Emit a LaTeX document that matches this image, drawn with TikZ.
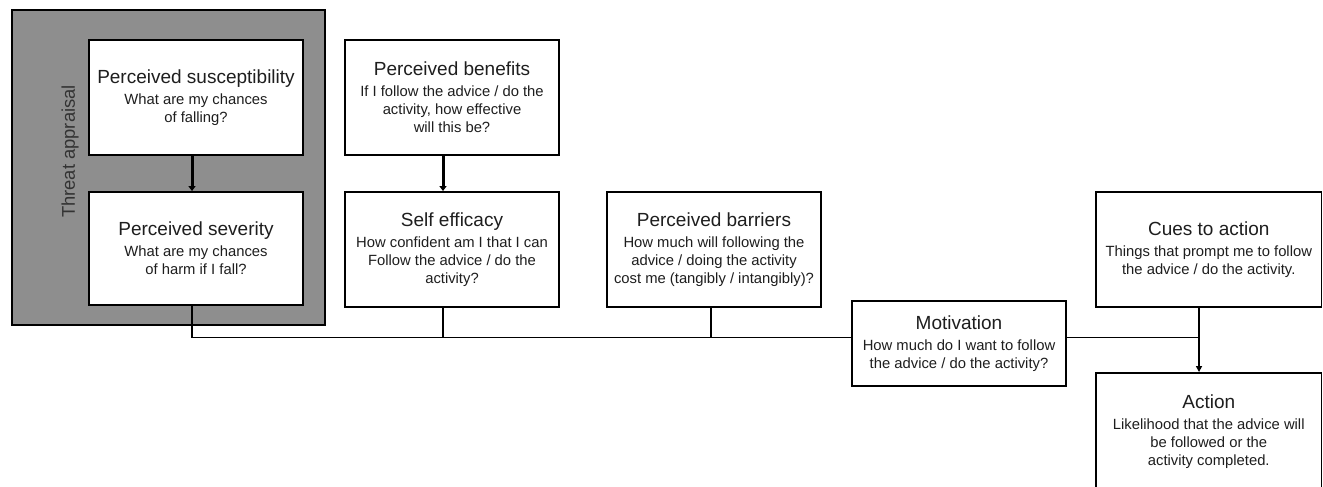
\documentclass[tikz,border=0pt]{standalone}
\usepackage{fontspec}
\setmainfont{Liberation Sans}
\usetikzlibrary{arrows.meta}
\definecolor{framegray}{HTML}{8E8E8E}
\definecolor{txt}{HTML}{1E1E1E}
\newcommand{\ttl}[1]{{\fontsize{19}{19}\selectfont #1}}
\tikzset{
  box/.style={draw, line width=1.9pt, fill=white, minimum width=214pt, minimum height=115pt,
    inner sep=0pt, align=center, text=txt, font=\fontsize{14.8}{18}\selectfont},
  frame/.style={draw, line width=2pt, fill=framegray, minimum width=313pt, minimum height=315pt, inner sep=0pt},
  conn/.style={line width=1.6pt},
  arrthick/.style={line width=3pt, -{Triangle[length=5pt,width=7pt]}},
  arrthin/.style={line width=1.6pt, -{Triangle[length=6pt,width=6pt]}},
}
\begin{document}
\begin{tikzpicture}[x=1pt,y=-1pt]
\useasboundingbox (0,0) rectangle (1323,487);
\node[frame] (threat) at (168.5,167.5) {};
\node[rotate=90, text=black!80, font=\fontsize{18.4}{19}\selectfont, inner sep=0pt] (threatlabel) at (70,151.5) {Threat appraisal};

\node[box] (susc) at (196,97.5) {\ttl{Perceived susceptibility}\\[3pt]What are my chances\\of falling?};
\node[box, minimum height=113pt] (sev) at (196,248.5) {\ttl{Perceived severity}\\[3pt]What are my chances\\of harm if I fall?};
\node[box] (ben) at (452,97.5) {\ttl{Perceived benefits}\\[3pt]If I follow the advice / do the\\activity, how effective\\will this be?};
\node[box] (self) at (452,249.5) {\ttl{Self efficacy}\\[3pt]How confident am I that I can\\Follow the advice / do the\\activity?};
\node[box] (bar) at (714,249.5) {\ttl{Perceived barriers}\\[3pt]How much will following the\\advice / doing the activity\\cost me (tangibly / intangibly)?};
\node[box, minimum height=85pt] (mot) at (959,343.5) {\ttl{Motivation}\\[3pt]How much do I want to follow\\the advice / do the activity?};
\node[box, minimum width=225.5pt] (cues) at (1208.75,249.5) {\ttl{Cues to action}\\[3pt]Things that prompt me to follow\\the advice / do the activity.};
\node[box, minimum width=225.5pt, minimum height=117pt] (action) at (1208.75,431.5) {\ttl{Action}\\[3pt]Likelihood that the advice will\\be followed or the\\activity completed.};

\coordinate (mainline) at (0,337.5);

\draw[arrthick] ([xshift=-4pt]susc.south) -- ([xshift=-4pt]sev.north);
\draw[arrthick] ([xshift=-9pt]ben.south) -- ([xshift=-9pt]self.north);
\draw[conn] ([xshift=-4pt]sev.south) |- ([yshift=6pt]mot.west);
\draw[conn] ([xshift=-9pt]self.south) -- ([xshift=-9pt]self.south |- mainline);
\draw[conn] ([xshift=-3pt]bar.south) -- ([xshift=-3pt]bar.south |- mainline);
\draw[conn] ([yshift=6pt]mot.east) -- ([xshift=-9.75pt]cues.south |- mainline);
\draw[arrthin] ([xshift=-9.75pt]cues.south) -- ([xshift=-9.75pt]action.north);
\end{tikzpicture}
\end{document}
